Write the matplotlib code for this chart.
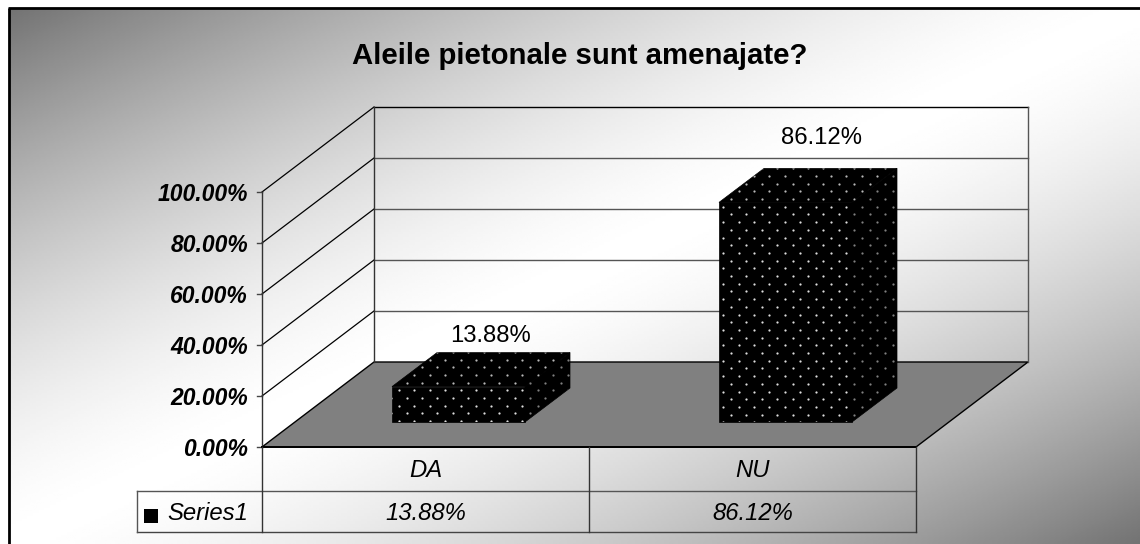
import numpy as np
import matplotlib
matplotlib.use('Agg')
import matplotlib.pyplot as plt
from matplotlib.patches import Polygon

plt.rcParams['font.family'] = ['Liberation Sans', 'DejaVu Sans']

title = 'Aleile pietonale sunt amenajate?'
categories = ['DA', 'NU']
values = [13.88, 86.12]
value_labels = ['13.88%', '86.12%']
y_ticks = [0, 20, 40, 60, 80, 100]
y_tick_labels = ['0.00%', '20.00%', '40.00%', '60.00%', '80.00%', '100.00%']
series_name = 'Series1'

W, H = 1140, 544

# layout of the fake 3d box, in pixels
x0, x1 = 262, 916
y0, y100 = 447, 192
dx, dy = 112, -85
bar_w = 133
bar_off = (33, -25)
bar_depth = (45, -34)
cat_w = (x1 - x0) / len(categories)
label_shift = [(-13, -17), (-8.5, -30)]


def val_y(v):
    return y0 + (y100 - y0) * v / 100


def face_dots(ax, poly, start, color, zorder=5):
    # the dotted fill of the bars
    xs = np.arange(start[0] - 30 * 15.4, start[0] + 30 * 15.4, 15.4)
    rows = np.arange(-40, 41)
    px, py = [], []
    for r in rows:
        shift = 7.7 if r % 2 else 0
        px.extend(xs + shift)
        py.extend(np.full(len(xs), start[1] + r * 7.7))
    dots = ax.scatter(px, py, s=2.6, color=color, linewidths=0, zorder=zorder)
    dots.set_clip_path(poly)


fig = plt.figure(figsize=(W / 100, H / 100), dpi=100)
ax = fig.add_axes([0, 0, 1, 1])
ax.set_xlim(0, W)
ax.set_ylim(H, 0)
ax.axis('off')

# background gradient, dark in two corners and white on the other diagonal
gx, gy = np.meshgrid(np.linspace(0, 1, 400), np.linspace(0, 1, 200))
grad = 255 - 140 * np.abs(gx + gy - 1) ** 1.5
ax.imshow(grad, extent=(9, W, H, 8), cmap='gray', vmin=0, vmax=255, aspect='auto', zorder=0)
ax.set_xlim(0, W)
ax.set_ylim(H, 0)
ax.plot([9, 9], [H, 8], color='black', lw=2, zorder=1, solid_capstyle='butt')
ax.plot([8, W], [8, 8], color='black', lw=2, zorder=1, solid_capstyle='butt')

# floor
ax.add_patch(Polygon([(x0, y0), (x1, y0), (x1 + dx, y0 + dy), (x0 + dx, y0 + dy)],
                     facecolor='#808080', edgecolor='black', lw=1, zorder=2))

# walls and grid
for v in y_ticks:
    y = val_y(v)
    if v == 0:
        continue
    ax.plot([x0 + dx, x1 + dx], [y + dy, y + dy], color='#555555' if v < 100 else 'black',
            lw=1, zorder=2)
    ax.plot([x0, x0 + dx], [y, y + dy], color='black', lw=0.9, zorder=2)
for v, lab in zip(y_ticks, y_tick_labels):
    y = val_y(v)
    ax.plot([x0 - 5, x0], [y, y], color='#444444', lw=1, zorder=2)
    ax.text(248, y + 2.5, lab, ha='right', va='center', fontsize=16.5, fontweight='bold',
            fontstyle='italic', zorder=6)
ax.plot([x0, x0], [y0, y100], color='#333333', lw=1, zorder=2)
ax.plot([x0 + dx, x0 + dx], [y0 + dy, y100 + dy], color='#333333', lw=1, zorder=2)
ax.plot([x1 + dx, x1 + dx], [y0 + dy, y100 + dy], color='#555555', lw=1, zorder=2)

# bars
dot_starts = {'DA': (399, 405.7), 'NU': (723.3, 206.7)}
for i, (cat, v, lab) in enumerate(zip(categories, values, value_labels)):
    left = x0 + cat_w * (i + 0.5) - bar_w / 2 + bar_off[0]
    right = left + bar_w
    bot = y0 + bar_off[1]
    top = bot + val_y(v) - y0
    ddx, ddy = bar_depth
    front = [(left, bot), (right, bot), (right, top), (left, top)]
    upper = [(left, top), (right, top), (right + ddx, top + ddy), (left + ddx, top + ddy)]
    side = [(right, bot), (right + ddx, bot + ddy), (right + ddx, top + ddy), (right, top)]
    for pts, col in [(front, '#dddddd'), (upper, '#b8b8b8'), (side, '#808080')]:
        poly = Polygon(pts, facecolor='black', edgecolor='black', lw=0.5, zorder=4)
        ax.add_patch(poly)
        face_dots(ax, poly, dot_starts[cat], col)
    ax.text(left + ddx + bar_w / 2 + label_shift[i][0], top + ddy + label_shift[i][1], lab,
            ha='center', va='center', fontsize=17.2, zorder=6)

# data table
row1, row2 = 491, 532
tab_left = 136.5
ax.plot([x0, x1], [y0, y0], color='black', lw=1.4, zorder=3)
ax.plot([tab_left, x1], [row1, row1], color='#555555', lw=1, zorder=3)
ax.plot([tab_left, x1], [row2, row2], color='#444444', lw=1, zorder=3)
ax.plot([tab_left, tab_left], [row1, row2], color='#555555', lw=1, zorder=3)
for i in range(len(categories) + 1):
    ax.plot([x0 + cat_w * i] * 2, [y0, row2], color='#333333', lw=1, zorder=3)
for i, (cat, lab) in enumerate(zip(categories, value_labels)):
    xc = x0 + cat_w * (i + 0.5)
    ax.text(xc, (y0 + row1) / 2 + 1.5, cat, ha='center', va='center', fontsize=17.2,
            fontstyle='italic', zorder=6)
    ax.text(xc, (row1 + row2) / 2 + 2.5, lab, ha='center', va='center', fontsize=17.2,
            fontstyle='italic', zorder=6)
ax.add_patch(Polygon([(144, 509), (158, 509), (158, 523), (144, 523)], facecolor='black',
                     edgecolor='none', zorder=5))
ax.text(167, (row1 + row2) / 2 + 2.5, series_name, ha='left', va='center', fontsize=17.2,
        fontstyle='italic', zorder=6)

ax.text(580, 56, title, ha='center', va='center', fontsize=21.2, fontweight='bold', zorder=6)

fig.savefig('out.png', dpi=100)
